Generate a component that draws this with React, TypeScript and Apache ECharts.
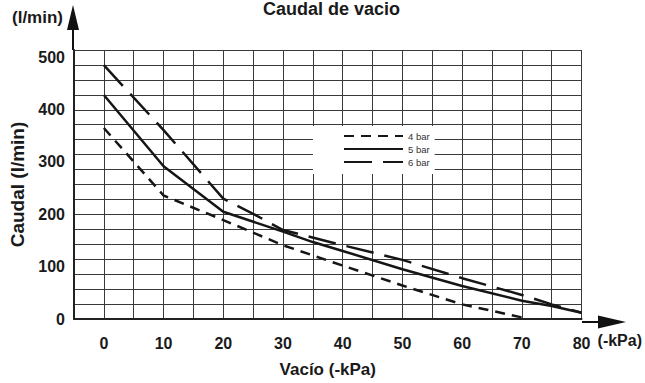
import React, { useEffect, useRef } from "react";
import * as echarts from "echarts";

const seriesNames = ["4 bar", "5 bar", "6 bar"];
const bar4X = [0, 10, 20, 30, 40, 50, 60, 70];
const bar4Y = [365, 236, 189, 141, 102, 64, 28, 3];
const bar5X = [0, 10, 20, 30, 35, 40, 50, 60, 70, 75, 80];
const bar5Y = [428, 292, 205, 167, 147, 130, 95, 63, 35, 25, 12];
const bar6X = [0, 10, 20, 25, 30, 40, 50, 60, 70, 75, 80];
const bar6Y = [485, 361, 230, 201, 170, 141, 113, 78, 46, 28, 12];
const xTickValues = [0, 10, 20, 30, 40, 50, 60, 70, 80];
const yTickValues = [0, 100, 200, 300, 400, 500];

const FONT = "'Liberation Sans', Arial, Helvetica, sans-serif";

const pairs = (xs: number[], ys: number[]) => xs.map((x, i) => [x, ys[i]]);

export default function App() {
  const ref = useRef<HTMLDivElement>(null);
  useEffect(() => {
    if (!ref.current) return;
    const chart = echarts.init(ref.current, undefined, { renderer: "svg" });
    const lineColor = "#161616";
    const gridColor = "#3a3a3a";
    const textColor = "#1a1a1a";
    chart.setOption({
      animation: false,
      backgroundColor: "#ffffff",
      textStyle: { fontFamily: FONT },
      title: {
        text: "Caudal de vacio",
        left: 258,
        top: -5,
        textStyle: { fontSize: 18, fontWeight: "bold", color: textColor, fontFamily: FONT },
      },
      grid: { left: 73, right: 63, top: 50, bottom: 61 },
      legend: {
        data: seriesNames,
        orient: "vertical",
        left: 313,
        top: 126,
        padding: [5, 5, 7, 30],
        itemWidth: 59,
        itemHeight: 10,
        itemGap: 3,
        backgroundColor: "#ffffff",
        itemStyle: { opacity: 0 },
        textStyle: { fontSize: 9.5, color: "#333", fontFamily: FONT, lineHeight: 10 },
      },
      xAxis: [
        {
          type: "value",
          min: -5,
          max: 80,
          interval: 5,
          position: "bottom",
          axisLine: { show: true, onZero: false, lineStyle: { color: "#222", width: 2 } },
          axisTick: { show: false },
          splitLine: { show: true, lineStyle: { color: gridColor, width: 1 } },
          axisLabel: {
            margin: 16,
            fontSize: 16,
            fontWeight: "bold",
            color: textColor,
            fontFamily: FONT,
            formatter: (v: number) => (xTickValues.includes(v) ? String(v) : ""),
          },
          name: "Vacío (-kPa)",
          nameLocation: "middle",
          nameGap: 42,
          nameTextStyle: { fontSize: 17, fontWeight: "bold", color: textColor, fontFamily: FONT },
        },
        {
          type: "value",
          min: -5,
          max: 80,
          position: "bottom",
          axisLine: { show: false, onZero: false },
          axisTick: { show: false },
          axisLabel: { show: false },
          splitLine: { show: false },
          name: "(-kPa)",
          nameLocation: "end",
          nameGap: 16,
          nameTextStyle: {
            fontSize: 16,
            fontWeight: "bold",
            color: textColor,
            fontFamily: FONT,
            verticalAlign: "top",
            padding: [13, 0, 0, 0],
          },
        },
      ],
      yAxis: [
        {
          type: "value",
          min: 0,
          max: 514,
          interval: 100,
          axisLine: { show: true, onZero: false, lineStyle: { color: "#222", width: 2 } },
          axisTick: { show: false },
          splitLine: { show: false },
          axisLabel: {
            margin: 9,
            fontSize: 16,
            fontWeight: "bold",
            color: textColor,
            fontFamily: FONT,
            formatter: (v: number) => (yTickValues.includes(v) ? String(v) : ""),
          },
          name: "Caudal (l/min)",
          nameLocation: "middle",
          nameGap: 47,
          nameTextStyle: { fontSize: 19, fontWeight: "bold", color: textColor, fontFamily: FONT },
        },
        {
          type: "value",
          min: 0,
          max: 18,
          interval: 1,
          position: "left",
          axisLine: { show: false, onZero: false },
          axisTick: { show: false },
          axisLabel: { show: false },
          splitLine: { show: true, lineStyle: { color: gridColor, width: 1 } },
          name: "(l/min)",
          nameLocation: "end",
          nameGap: 24,
          nameTextStyle: {
            fontSize: 17,
            fontWeight: "bold",
            color: textColor,
            fontFamily: FONT,
            align: "right",
            padding: [0, 11, 0, 0],
          },
        },
      ],
      series: [
        {
          name: seriesNames[0],
          type: "line",
          symbol: "none",
          data: pairs(bar4X, bar4Y),
          lineStyle: { color: lineColor, width: 2.5, type: [10, 7] },
          itemStyle: { color: lineColor, opacity: 0 },
          z: 3,
        },
        {
          name: seriesNames[1],
          type: "line",
          symbol: "none",
          data: pairs(bar5X, bar5Y),
          lineStyle: { color: lineColor, width: 2.5, type: "solid" },
          itemStyle: { color: lineColor, opacity: 0 },
          z: 3,
        },
        {
          name: seriesNames[2],
          type: "line",
          symbol: "none",
          data: pairs(bar6X, bar6Y),
          lineStyle: { color: lineColor, width: 2.5, type: [28, 11] },
          itemStyle: { color: lineColor, opacity: 0 },
          z: 3,
        },
      ],
      graphic: [
        {
          type: "line",
          shape: { x1: 73, y1: 50, x2: 73, y2: 28 },
          style: { stroke: "#111", lineWidth: 2 },
        },
        {
          type: "polygon",
          shape: { points: [[73, 5], [67, 30], [79, 30]] },
          style: { fill: "#111" },
        },
        {
          type: "line",
          shape: { x1: 582, y1: 322, x2: 600, y2: 322 },
          style: { stroke: "#111", lineWidth: 2 },
        },
        {
          type: "polygon",
          shape: { points: [[626, 322], [598, 315.5], [598, 328.5]] },
          style: { fill: "#111" },
        },
      ],
    });
    return () => chart.dispose();
  }, []);
  return (
    <div
      ref={ref}
      style={{ position: "fixed", left: 0, top: 0, width: 645, height: 383 }}
    />
  );
}
